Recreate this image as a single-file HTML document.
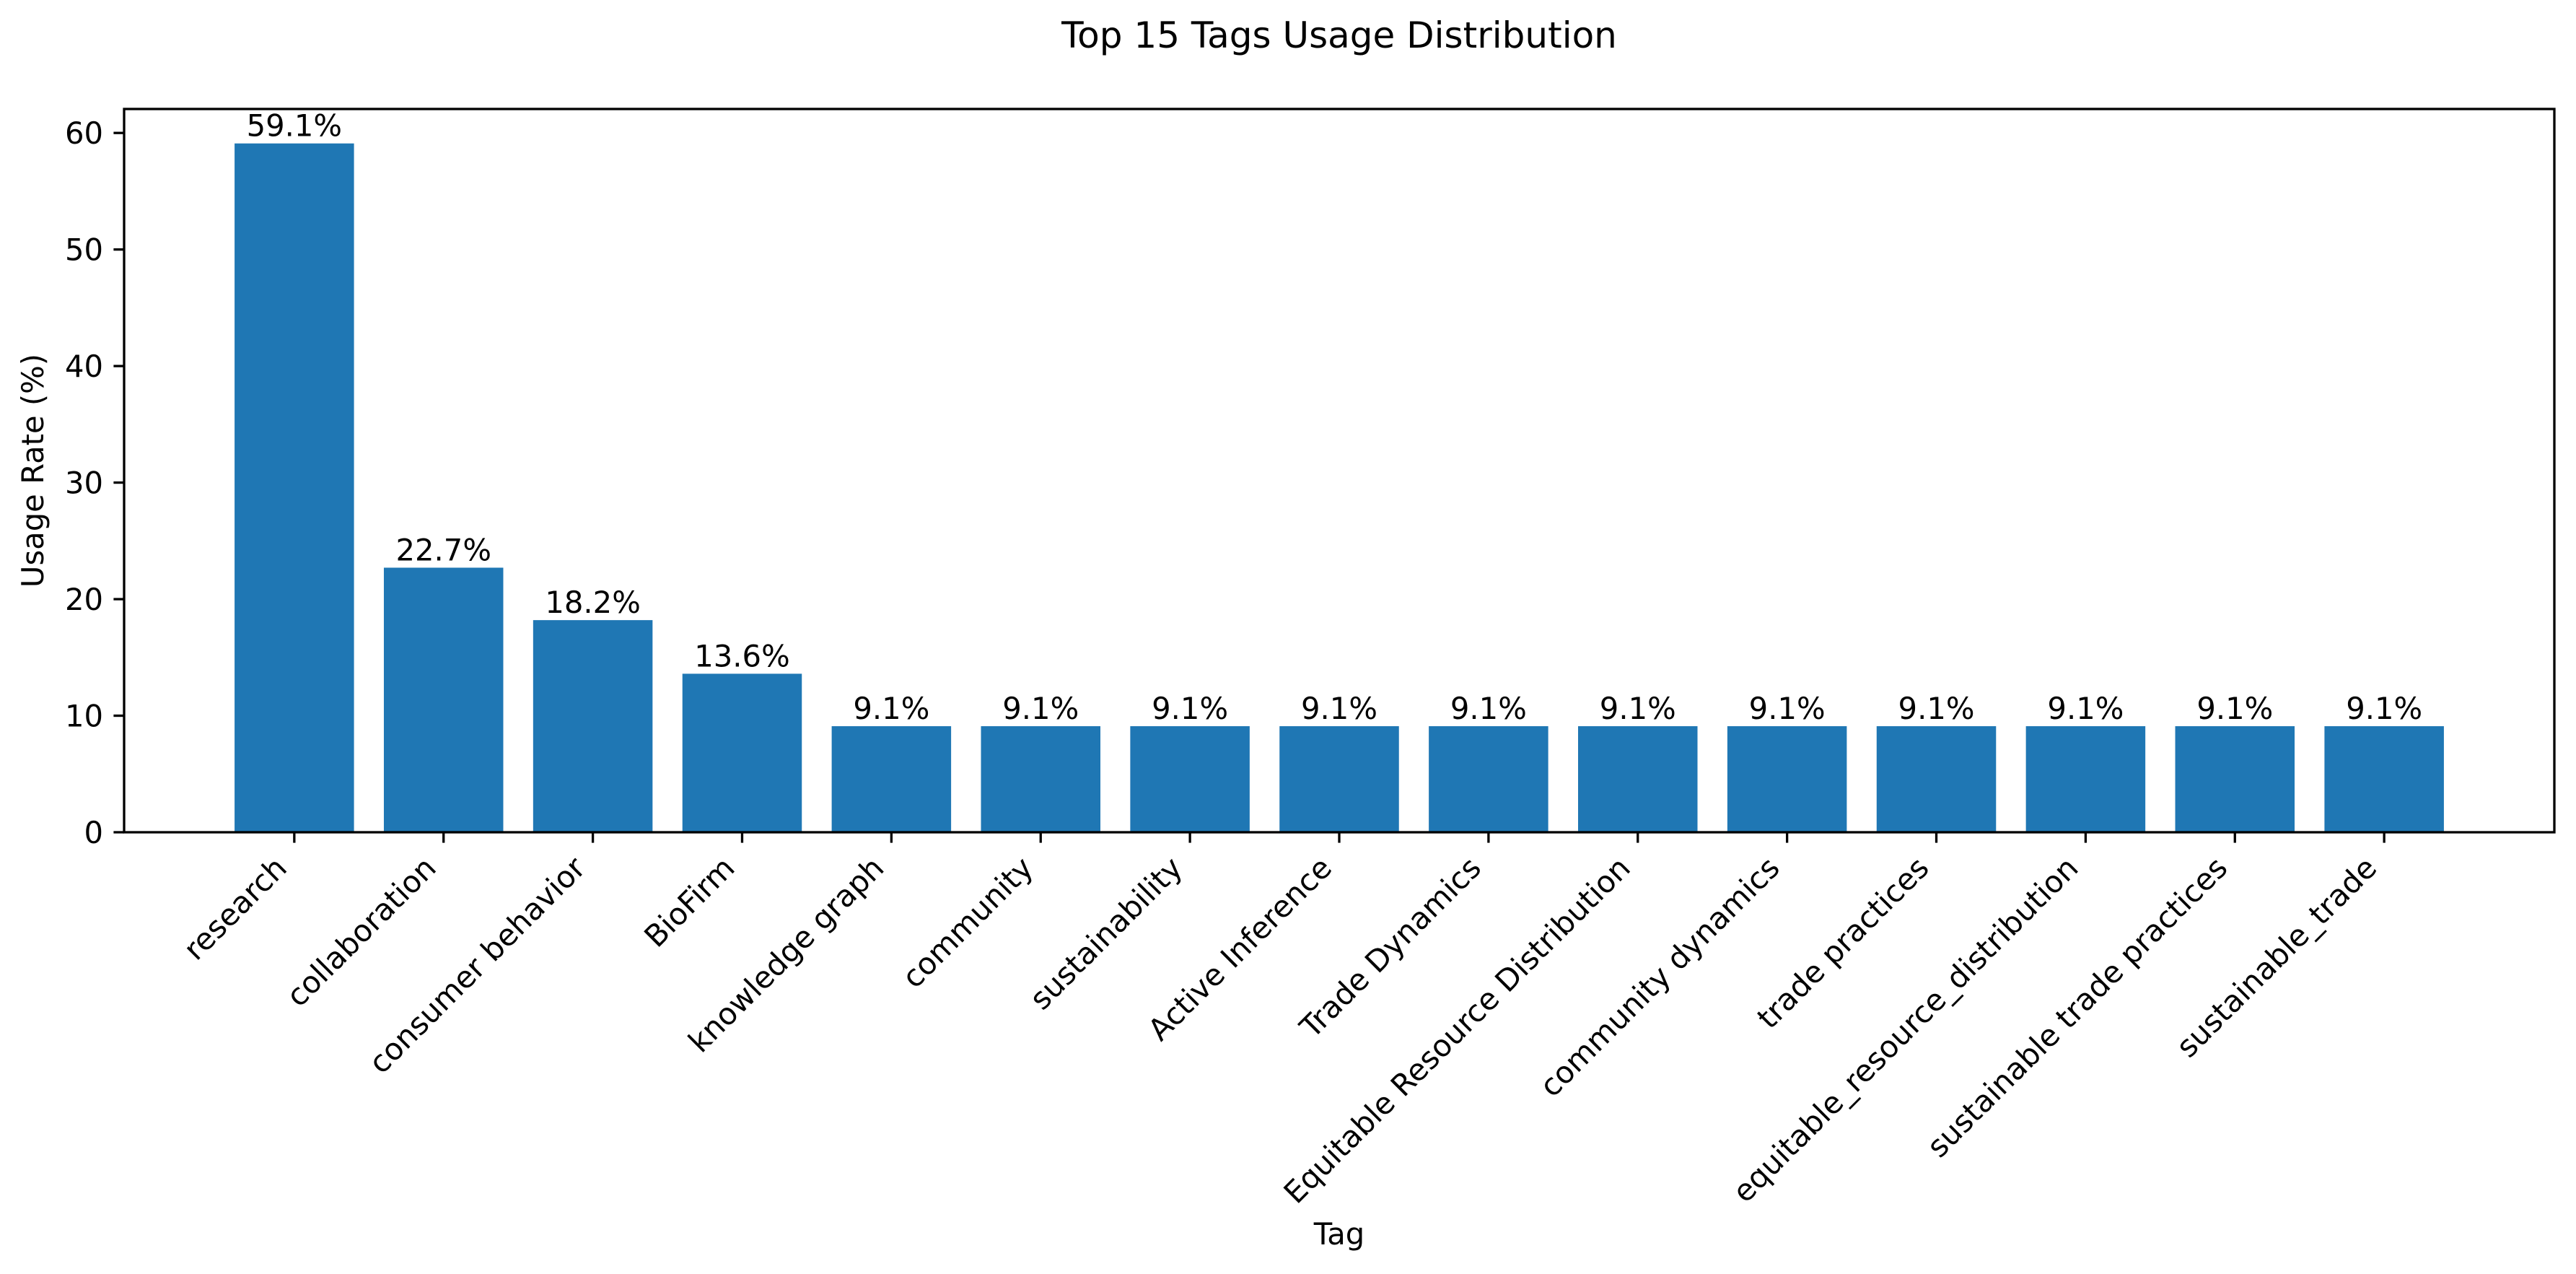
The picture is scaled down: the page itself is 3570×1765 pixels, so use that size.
<!DOCTYPE html>
<html><head><meta charset="utf-8"><style>
html,body{margin:0;padding:0;background:#fff}
svg{display:block;font-family:"DejaVu Sans","Liberation Sans",sans-serif}
</style></head><body>
<svg id="chart" width="3570" height="1765" viewBox="0 0 3570 1765" xmlns="http://www.w3.org/2000/svg">
<rect width="3570" height="1765" fill="#fff"/>
<text x="1856" y="66" font-size="50" text-anchor="middle">Top 15 Tags Usage Distribution</text>
<text x="1856" y="1724" font-size="41.7" text-anchor="middle">Tag</text>
<text transform="translate(60,652) rotate(-90)" font-size="41.7" text-anchor="middle">Usage Rate (%)</text>
<g id="bars"></g>
<g id="xticks"></g>
<g id="yticks"></g>
<rect x="172" y="151" width="3368" height="1002" fill="none" stroke="#000" stroke-width="3.3"/>
</svg>
<script>
const categories = ["research","collaboration","consumer behavior","BioFirm","knowledge graph","community","sustainability","Active Inference","Trade Dynamics","Equitable Resource Distribution","community dynamics","trade practices","equitable_resource_distribution","sustainable trade practices","sustainable_trade"];
const values = [59.1,22.7,18.2,13.6,9.1,9.1,9.1,9.1,9.1,9.1,9.1,9.1,9.1,9.1,9.1];
const yTicks = [0,10,20,30,40,50,60];

const NS = "http://www.w3.org/2000/svg";
const L = 172, R = 3540, T = 151, B = 1153;
const n = categories.length;
const xmin = -0.4 - 0.05 * (n - 1 + 0.8), xmax = n - 1 + 0.4 + 0.05 * (n - 1 + 0.8);
const ymax = Math.max(...values) * 1.05;
const xs = v => L + (v - xmin) / (xmax - xmin) * (R - L);
const ys = v => B - v / ymax * (B - T);
function mk(tag, attrs, parent, text) {
  const e = document.createElementNS(NS, tag);
  for (const k in attrs) e.setAttribute(k, attrs[k]);
  if (text !== undefined) e.textContent = text;
  parent.appendChild(e);
  return e;
}
const gb = document.getElementById('bars');
const gx = document.getElementById('xticks');
const gy = document.getElementById('yticks');
categories.forEach((c, i) => {
  const x0 = xs(i - 0.4), x1 = xs(i + 0.4), y = ys(values[i]);
  const r = mk('rect', {x: x0, y: y, width: x1 - x0, height: B - y, fill: '#1f77b4'}, gb);
  
  
  const t = mk('text', {x: xs(i), y: y - 10, 'font-size': 41.7, 'text-anchor': 'middle'}, gb, values[i].toFixed(1) + '%');
  
  
  const tk = mk('line', {x1: xs(i), x2: xs(i), y1: B, y2: B + 14.6, stroke: '#000', 'stroke-width': 3.3}, gx);
  
  
  const lx = xs(i) - 8, ly = 1205;
  const lb = mk('text', {x: lx, y: ly, 'font-size': 41.7, 'text-anchor': 'end', transform: `rotate(-45 ${lx} ${ly})`}, gx, c);
  
  
});
yTicks.forEach(v => {
  const y = ys(v);
  const tk = mk('line', {x1: L - 14.6, x2: L, y1: y, y2: y, stroke: '#000', 'stroke-width': 3.3}, gy);
  
  
  const lb = mk('text', {x: L - 29, y: y + 15, 'font-size': 41.7, 'text-anchor': 'end'}, gy, String(v));
  
  
});
</script>
</body></html>
